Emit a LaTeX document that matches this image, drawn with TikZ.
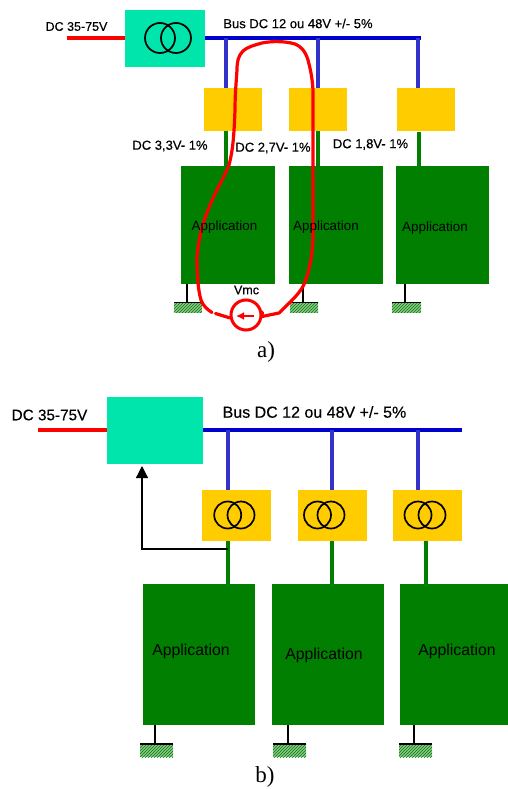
\documentclass[tikz,border=0pt]{standalone}
\usepackage{fontspec}
\setmainfont{Liberation Sans}
\newfontfamily\serifcap{Liberation Serif}
\newfontfamily\heavy[FakeBold=0.35]{Liberation Sans}
\usetikzlibrary{patterns,arrows.meta}
\definecolor{convcol}{HTML}{00E5AC}
\definecolor{yelcol}{HTML}{FFCC00}
\definecolor{appcol}{HTML}{007F00}
\definecolor{buscol}{HTML}{0000CC}
\definecolor{dropcol}{HTML}{3333CC}
\definecolor{redcol}{HTML}{FF0000}
\tikzset{
  boxn/.style={inner sep=0pt,outer sep=0pt,draw=none},
  conv/.style={boxn,fill=convcol},
  regul/.style={boxn,fill=yelcol},
  appli/.style={boxn,fill=appcol},
  feedred/.style={draw=redcol,line width=3.2pt},
  busline/.style={draw=buscol,line width=3.2pt},
  drop/.style={draw=dropcol,line width=3.4pt},
  greenline/.style={draw=appcol,line width=3.4pt},
  coil/.style={draw=black,line width=1.7pt,circle,inner sep=0pt,fill=none},
  gndline/.style={draw=black,line width=1.5pt},
  hatchbox/.style={boxn,preaction={fill=appcol!45!white},pattern=north east lines,pattern color=appcol},
  txtA/.style={inner sep=0pt,font=\heavy\fontsize{13}{15}\selectfont},
  txtS/.style={inner sep=0pt,font=\heavy\fontsize{12.5}{15}\selectfont},
  txtB/.style={inner sep=0pt,font=\heavy\fontsize{16}{18}\selectfont},
  txtC/.style={inner sep=0pt,font=\heavy\fontsize{15.3}{18}\selectfont},
  appA/.style={inner sep=0pt,font=\fontsize{13.4}{15}\selectfont},
  appB/.style={inner sep=0pt,font=\fontsize{15.8}{18}\selectfont},
  capt/.style={inner sep=0pt,font=\serifcap\fontsize{23}{26}\selectfont},
  loopred/.style={draw=redcol,line width=3.2pt,line cap=round,line join=round},
}
\begin{document}
\begin{tikzpicture}[x=1pt,y=-1pt]
\useasboundingbox (0,0) rectangle (508,789);
% ---------- a)
\coordinate (aStart) at (67,38);
\coordinate (aEnd) at (421,38);
\coordinate (aJ1) at (226,38);
\coordinate (aJ2) at (318,38);
\coordinate (aJ3) at (418,38);
\node[conv,minimum width=80pt,minimum height=57pt] (aConv) at (165,38.5) {};
\node[regul,minimum width=58pt,minimum height=43pt] (aY1) at (233,109.5) {};
\node[regul,minimum width=58pt,minimum height=43pt] (aY2) at (318,109.5) {};
\node[regul,minimum width=58pt,minimum height=43pt] (aY3) at (426,109.5) {};
\node[appli,minimum width=94pt,minimum height=118pt] (aA1) at (228,225) {};
\node[appli,minimum width=94pt,minimum height=118pt] (aA2) at (336,225) {};
\node[appli,minimum width=93pt,minimum height=118pt] (aA3) at (442.5,225) {};
\draw[feedred] (aStart) -- (aConv.west |- aStart);
\draw[busline] (aConv.east |- aEnd) -- (aEnd);
\draw[drop] (aJ1) -- (aJ1 |- aY1.north);
\draw[drop] (aJ2) -- (aJ2 |- aY2.north);
\draw[drop] (aJ3) -- (aJ3 |- aY3.north);
\coordinate (aG1) at (226,166);
\coordinate (aG2) at (318,166);
\coordinate (aG3) at (419,166);
\draw[greenline] (aG1) -- (aG1 |- aY1.south);
\draw[greenline] (aG2) -- (aG2 |- aY2.south);
\draw[greenline] (aG3) -- (419,132);
\node[coil,minimum size=30pt] (aC1) at (160,38) {};
\node[coil,minimum size=30pt] (aC2) at (176,38) {};
% grounds a
\node[hatchbox,minimum width=28pt,minimum height=10.5pt] (aH1) at (188,307.5) {};
\node[hatchbox,minimum width=28pt,minimum height=10.5pt] (aH2) at (304,307.5) {};
\node[hatchbox,minimum width=29pt,minimum height=10.5pt] (aH3) at (406.5,307.5) {};
\coordinate (aS1) at (187,284);
\coordinate (aS2) at (303,284);
\coordinate (aS3) at (405,284);
\draw[gndline] (aS1) -- (aS1 |- aH1.north);
\draw[gndline] (aS2) -- (aS2 |- aH2.north);
\draw[gndline] (aS3) -- (aS3 |- aH3.north);
\draw[gndline] (aH1.north west) -- (aH1.north east);
\draw[gndline] (aH2.north west) -- (aH2.north east);
\draw[gndline] (aH3.north west) -- (aH3.north east);
% red loop
\node[draw=redcol,line width=3pt,circle,inner sep=0pt,minimum size=30pt] (aV) at (246,315) {};
\draw[loopred] (aV.10) -- (262,316.5) -- (279,313)
  .. controls (290,302) and (301,293) .. (305,282)
  .. controls (311,265) and (313,250) .. (313,233)
  -- (313,90)
  .. controls (312,75) and (310,68) .. (308,60)
  .. controls (305,50) and (300,46) .. (295,44)
  .. controls (285,41) and (272,41) .. (262,43)
  .. controls (255,45) and (247,47) .. (243,51)
  .. controls (238,56) and (237,62) .. (237,70)
  .. controls (236,85) and (235,95) .. (235,110)
  .. controls (234,135) and (233,150) .. (229,165)
  .. controls (222,182) and (216,190) .. (210,205)
  .. controls (203,222) and (199,235) .. (197,257)
  .. controls (197,275) and (198,290) .. (201,300)
  .. controls (203,306) and (208,310) .. (212,312.5);
\draw[loopred] (215.5,313.5) -- (aV.190);
\coordinate (aArT) at (236,316);
\coordinate (aArS) at (254,316);
\draw[redcol,line width=1.6pt,-{Latex[length=8pt,width=8pt]}] (aArS) -- (aArT);
% labels a
\node[txtS] (lA0) at (76.5,26.5) {DC 35-75V};
\node[txtA] (lA1) at (298,23.5) {Bus DC 12 ou 48V +/- 5\%};
\node[txtA] (lA2) at (170,146) {DC 3,3V- 1\%};
\node[txtA] (lA3) at (273,148) {DC 2,7V- 1\%};
\node[txtA] (lA4) at (370.5,144.5) {DC 1,8V- 1\%};
\node[appA] (lA5) at (224.5,227) {Application};
\node[appA] (lA6) at (326,227) {Application};
\node[appA] (lA7) at (435,228) {Application};
\node[txtS] (lA8) at (246.5,290) {Vmc};
\node[capt] (lA9) at (266,352) {a)};
% ---------- b)
\coordinate (bStart) at (38,430);
\coordinate (bEnd) at (462,430);
\coordinate (bJ1) at (228,430);
\coordinate (bJ2) at (332,430);
\coordinate (bJ3) at (418,430);
\node[conv,minimum width=96pt,minimum height=67pt] (bConv) at (155,430.5) {};
\node[regul,minimum width=69pt,minimum height=51pt] (bY1) at (236.5,515.5) {};
\node[regul,minimum width=69pt,minimum height=51pt] (bY2) at (332.5,515.5) {};
\node[regul,minimum width=69pt,minimum height=51pt] (bY3) at (427.5,515.5) {};
\node[appli,minimum width=112pt,minimum height=141pt] (bA1) at (199,654.5) {};
\node[appli,minimum width=112pt,minimum height=141pt] (bA2) at (328,654.5) {};
\node[appli,minimum width=112pt,minimum height=141pt] (bA3) at (456,654.5) {};
\draw[feedred] (bStart) -- (bConv.west |- bStart);
\draw[busline] (bConv.east |- bEnd) -- (bEnd);
\draw[drop] (bJ1) -- (bJ1 |- bY1.north);
\draw[drop] (bJ2) -- (bJ2 |- bY2.north);
\draw[drop] (bJ3) -- (bJ3 |- bY3.north);
\coordinate (bG1) at (228,584);
\coordinate (bG2) at (332,584);
\coordinate (bG3) at (426,584);
\draw[greenline] (bG1) -- (bG1 |- bY1.south);
\draw[greenline] (bG2) -- (bG2 |- bY2.south);
\draw[greenline] (bG3) -- (bG3 |- bY3.south);
\foreach \n/\xa/\xb in {1/227.7/241,2/317.5/331,3/418/432}{
  \node[coil,minimum size=27pt] (bC\n a) at (\xa,515) {};
  \node[coil,minimum size=27pt] (bC\n b) at (\xb,515) {};
}
% feedback arrow
\coordinate (bFb) at (228,549);
\coordinate (bTip) at (142,466);
\draw[draw=black,line width=1.2pt,-{Triangle[length=12pt,width=12pt]}] (bFb) -- (bTip |- bFb) -- (bTip);
% grounds b
\node[hatchbox,minimum width=33pt,minimum height=13pt] (bH1) at (156.5,750.5) {};
\node[hatchbox,minimum width=33pt,minimum height=13pt] (bH2) at (289.5,750.5) {};
\node[hatchbox,minimum width=33pt,minimum height=13pt] (bH3) at (415.5,750.5) {};
\coordinate (bS1) at (155,725);
\coordinate (bS2) at (288,725);
\coordinate (bS3) at (414,725);
\draw[gndline] (bS1) -- (bS1 |- bH1.north);
\draw[gndline] (bS2) -- (bS2 |- bH2.north);
\draw[gndline] (bS3) -- (bS3 |- bH3.north);
\draw[gndline] (bH1.north west) -- (bH1.north east);
\draw[gndline] (bH2.north west) -- (bH2.north east);
\draw[gndline] (bH3.north west) -- (bH3.north east);
% labels b
\node[txtC] (lB0) at (49.5,415) {DC 35-75V};
\node[txtB] (lB1) at (314.5,412) {Bus DC 12 ou 48V +/- 5\%};
\node[appB] (lB2) at (191,651) {Application};
\node[appB] (lB3) at (324,655) {Application};
\node[appB] (lB4) at (457,651) {Application};
\node[capt] (lB5) at (265,777) {b)};
\end{tikzpicture}
\end{document}
